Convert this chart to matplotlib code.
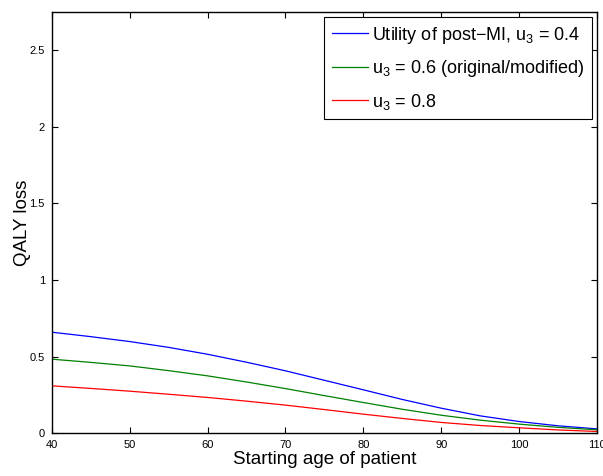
import matplotlib
matplotlib.use("Agg")
import matplotlib.pyplot as plt

plt.rcParams["font.family"] = ["Liberation Sans", "DejaVu Sans"]
plt.rcParams["mathtext.fontset"] = "custom"
plt.rcParams["mathtext.rm"] = "Liberation Sans"
plt.rcParams["mathtext.it"] = "Liberation Sans"

age = [40, 45, 50, 55, 60, 65, 70, 75, 80, 85, 90, 95, 100, 105, 110]
loss_u04 = [0.659, 0.630, 0.598, 0.560, 0.515, 0.463, 0.407, 0.345, 0.283, 0.220, 0.163, 0.113, 0.076, 0.048, 0.028]
loss_u06 = [0.483, 0.462, 0.439, 0.408, 0.374, 0.334, 0.291, 0.245, 0.200, 0.156, 0.117, 0.085, 0.059, 0.038, 0.022]
loss_u08 = [0.309, 0.292, 0.274, 0.254, 0.233, 0.209, 0.183, 0.154, 0.124, 0.096, 0.070, 0.050, 0.035, 0.021, 0.011]

labels = ["Utility of post\u2212MI, u$_3$ = 0.4", "u$_3$ = 0.6 (original/modified)", "u$_3$ = 0.8"]
colors = ["#0000ff", "#008000", "#ff0000"]

fig = plt.figure(figsize=(6.03, 4.76), dpi=100)
ax = fig.add_axes([0.086, 0.090, 0.904, 0.885])
for series, label, color in zip([loss_u04, loss_u06, loss_u08], labels, colors):
    ax.plot(age, series, color=color, linewidth=0.9, label=label)

ax.set_xlim(40, 110)
ax.set_ylim(0, 2.75)
ax.set_xticks(range(40, 111, 10))
ax.set_yticks([0, 0.5, 1, 1.5, 2, 2.5])
ax.set_yticklabels(["0", "0.5", "1", "1.5", "2", "2.5"])
ax.tick_params(direction="in", top=True, right=True, labelsize=8, length=4, width=0.8, pad=5)
for spine in ax.spines.values():
    spine.set_linewidth(1.0)
ax.set_xlabel("Starting age of patient", fontsize=13.5, labelpad=1)
ax.set_ylabel("QALY loss", fontsize=13.5, labelpad=-1)

leg = ax.legend(loc="upper right", fontsize=13, fancybox=False, framealpha=1,
                edgecolor="black", handlelength=2.0, borderaxespad=0.3,
                handletextpad=0.25, labelspacing=0.7, borderpad=0.4)
leg.get_frame().set_linewidth(0.8)

fig.savefig("out.png", dpi=100)
